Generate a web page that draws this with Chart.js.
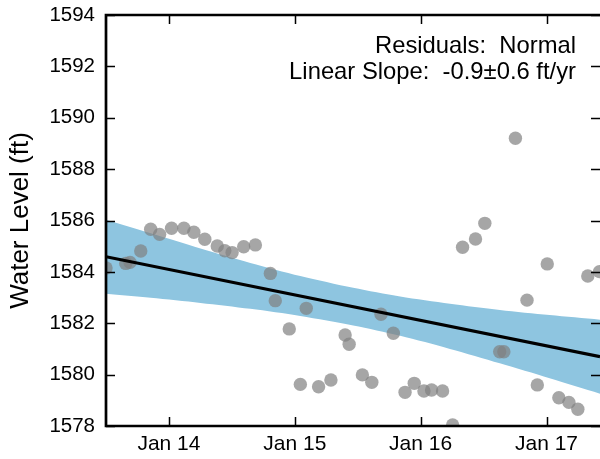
<!DOCTYPE html>
<html>
<head>
<meta charset="utf-8">
<script src="https://cdn.jsdelivr.net/npm/chart.js@4/dist/chart.umd.min.js"></script>
<style>
html,body{margin:0;padding:0;background:#fff;}
#wrap{width:600px;height:459px;position:relative;}
</style>
</head>
<body>
<div id="wrap"><canvas id="c" width="600" height="459"></canvas></div>
<script>
// ---- data (decimal years, feet) ----
const obsDates = [2013.50, 2013.657, 2013.691, 2013.776, 2013.855, 2013.926, 2014.021, 2014.119, 2014.198, 2014.285, 2014.384, 2014.444, 2014.502, 2014.594, 2014.687, 2014.806, 2014.845, 2014.956, 2015.044, 2015.091, 2015.189, 2015.287, 2015.400, 2015.432, 2015.537, 2015.612, 2015.685, 2015.783, 2015.876, 2015.949, 2016.026, 2016.087, 2016.174, 2016.254, 2016.333, 2016.436, 2016.510, 2016.628, 2016.661, 2016.753, 2016.845, 2016.927, 2017.006, 2017.098, 2017.178, 2017.249, 2017.328, 2017.421];
const obsLevels = [1584.15, 1584.33, 1584.37, 1584.81, 1585.66, 1585.46, 1585.70, 1585.70, 1585.54, 1585.27, 1585.01, 1584.82, 1584.75, 1584.98, 1585.05, 1583.94, 1582.88, 1581.78, 1579.62, 1582.58, 1579.53, 1579.79, 1581.54, 1581.18, 1579.99, 1579.70, 1582.35, 1581.61, 1579.31, 1579.66, 1579.36, 1579.40, 1579.36, 1578.04, 1584.96, 1585.28, 1585.89, 1580.89, 1580.89, 1589.20, 1582.90, 1579.60, 1584.31, 1579.10, 1578.92, 1578.65, 1583.84, 1584.01];

const trendDates = [2013.5, 2017.425];
const trendLevels = [1584.59, 1580.70];

const bandDates = [2013.5, 2013.855, 2014.251, 2014.647, 2015.044, 2015.464, 2015.837, 2016.233, 2016.629, 2017.025, 2017.425];
const bandUpper = [1586.03, 1585.50, 1584.91, 1584.35, 1583.84, 1583.38, 1583.04, 1582.76, 1582.52, 1582.32, 1582.14];
const bandLower = [1583.15, 1582.99, 1582.79, 1582.56, 1582.28, 1581.91, 1581.51, 1581.00, 1580.44, 1579.86, 1579.26];

const xTickValues = [2014, 2015, 2016, 2017];
const xTickLabels = ['Jan 14', 'Jan 15', 'Jan 16', 'Jan 17'];
const yTickValues = [1578, 1580, 1582, 1584, 1586, 1588, 1590, 1592, 1594];

const yTitle = 'Water Level (ft)';
const noteLines = ['Residuals:  Normal', 'Linear Slope:  -0.9\u00b10.6 ft/yr'];

const FONT = '"Liberation Sans", Arial, Helvetica, sans-serif';

function pts(xs, ys) { return xs.map((x, i) => ({x: x, y: ys[i]})); }

const frame = {
  id: 'frame',
  afterDraw(chart) {
    const ctx = chart.ctx;
    const a = chart.chartArea;
    const xs = chart.scales.x, ys = chart.scales.y;
    ctx.save();
    ctx.strokeStyle = '#000';
    // inward ticks
    ctx.lineWidth = 1.5;
    const tl = 9;
    ctx.beginPath();
    xTickValues.forEach(v => {
      const px = Math.round(xs.getPixelForValue(v)) + 0.5;
      ctx.moveTo(px, a.bottom); ctx.lineTo(px, a.bottom - tl);
      ctx.moveTo(px, a.top); ctx.lineTo(px, a.top + tl);
    });
    yTickValues.forEach(v => {
      const py = Math.round(ys.getPixelForValue(v)) + 0.5;
      ctx.moveTo(a.left, py); ctx.lineTo(a.left + tl, py);
      ctx.moveTo(a.right, py); ctx.lineTo(a.right - tl, py);
    });
    ctx.stroke();
    // spines
    ctx.lineWidth = 2.7;
    ctx.beginPath();
    ctx.moveTo(a.right + 2, a.top);
    ctx.lineTo(a.left, a.top);
    ctx.lineTo(a.left, a.bottom);
    ctx.lineTo(a.right + 2, a.bottom);
    ctx.stroke();
    // annotation
    ctx.fillStyle = '#000';
    ctx.textBaseline = 'alphabetic';
    ctx.font = '23.8px ' + FONT;
    ctx.textAlign = 'right';
    ctx.fillText(noteLines[0], 576, 53);
    ctx.fillText(noteLines[1], 576, 79);
    ctx.restore();
  }
};

new Chart(document.getElementById('c'), {
  type: 'scatter',
  data: {
    datasets: [
      {
        label: 'trend',
        data: pts(trendDates, trendLevels),
        showLine: true,
        borderColor: '#000',
        borderWidth: 3.2,
        pointRadius: 0,
        fill: false,
        clip: 0
      },
      {
        label: 'obs',
        data: pts(obsDates, obsLevels),
        backgroundColor: 'rgba(128,128,128,0.7)',
        borderWidth: 0,
        pointRadius: 6.7,
        pointHoverRadius: 6.7,
        clip: 0
      },
      {
        label: 'upper',
        data: pts(bandDates, bandUpper),
        showLine: true,
        borderWidth: 0,
        borderColor: 'rgba(0,0,0,0)',
        pointRadius: 0,
        tension: 0.3,
        fill: '+1',
        backgroundColor: 'rgb(142,197,224)',
        clip: 0
      },
      {
        label: 'lower',
        data: pts(bandDates, bandLower),
        showLine: true,
        borderWidth: 0,
        borderColor: 'rgba(0,0,0,0)',
        pointRadius: 0,
        tension: 0.3,
        fill: false,
        clip: 0
      }
    ]
  },
  options: {
    responsive: false,
    animation: false,
    events: [],
    layout: { autoPadding: false, padding: { top: 15, right: 0, left: 0, bottom: 0 } },
    plugins: { legend: { display: false }, tooltip: { enabled: false } },
    scales: {
      x: {
        type: 'linear',
        min: 2013.5,
        max: 2017.425,
        afterBuildTicks: s => { s.ticks = xTickValues.map(v => ({value: v})); },
        afterFit: s => { s.height = 33; s.paddingLeft = 0; s.paddingRight = 0; },
        grid: { display: false, drawTicks: false },
        border: { display: false },
        ticks: {
          padding: 6,
          color: '#000',
          font: { family: FONT, size: 21 },
          callback: v => xTickLabels[xTickValues.indexOf(v)] || ''
        }
      },
      y: {
        type: 'linear',
        min: 1578,
        max: 1594,
        afterBuildTicks: s => { s.ticks = yTickValues.map(v => ({value: v})); },
        afterFit: s => { s.width = 106; s.paddingTop = 10; s.paddingBottom = 10; },
        grid: { display: false, drawTicks: false },
        border: { display: false },
        ticks: {
          padding: 11,
          color: '#000',
          font: { family: FONT, size: 20.5 },
          callback: v => String(v)
        },
        title: {
          display: true,
          text: yTitle,
          color: '#000',
          font: { family: FONT, size: 26, lineHeight: 1.2 },
          padding: { top: 5, bottom: 0 }
        }
      }
    }
  },
  plugins: [frame]
});
</script>
</body>
</html>
